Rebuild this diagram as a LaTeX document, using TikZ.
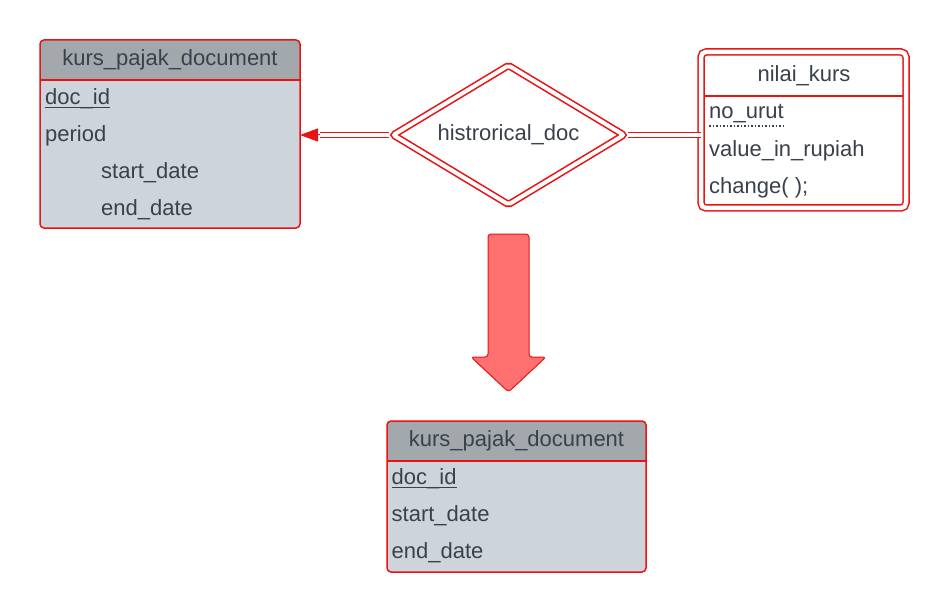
\documentclass[tikz,border=0pt]{standalone}
\usepackage{fontspec}
\setmainfont{Liberation Sans}
\usetikzlibrary{shapes.geometric,arrows.meta}

\definecolor{erred}{RGB}{232,19,19}
\definecolor{hdrgray}{RGB}{163,168,173}
\definecolor{bodygray}{RGB}{206,212,220}
\definecolor{txtgray}{RGB}{58,65,74}
\definecolor{arrowred}{RGB}{255,112,112}

\tikzset{
    erfont/.style={font=\fontsize{22}{26}\selectfont},
    entity/.style={draw=erred, fill=bodygray, line width=1.5pt, rounded corners=4pt,
        inner sep=0pt, outer sep=0pt,
        path picture={
            \fill[hdrgray, sharp corners] (path picture bounding box.north west)
                rectangle ([yshift=-40pt]path picture bounding box.north east);
            \draw[erred, line width=1.5pt, sharp corners] ([yshift=-40pt]path picture bounding box.north west)
                -- ([yshift=-40pt]path picture bounding box.north east);}},
    wentity/.style={draw=erred, double=white, double distance=4.5pt, line width=1.5pt,
        rounded corners=5pt, fill=white, inner sep=0pt, outer sep=0pt},
    rel/.style={diamond, draw=erred, double=white, double distance=4pt, line width=1.6pt,
        rounded corners=2pt, fill=white, text=txtgray, erfont, aspect=1.67,
        inner sep=0pt, outer sep=0pt, outer xsep=3pt},
    title/.style={anchor=base, inner sep=0pt, text=txtgray, erfont},
    attr/.style={anchor=base west, inner sep=0pt, text=txtgray, erfont},
    uline/.style={txtgray, line width=1.3pt},
    dotline/.style={txtgray, line width=1.5pt, dash pattern=on 1.5pt off 2pt},
    erline/.style={erred, line width=1.5pt},
    dbl/.style={draw=erred, line width=1.8pt, double=white, double distance=3.2pt},
    bigarrow/.style={fill=arrowred, draw=erred, line width=1pt, rounded corners=3pt, line join=round}
}

\begin{document}
\begin{tikzpicture}[x=1pt, y=-1pt]
    \useasboundingbox (0,0) rectangle (949,612);

    % entity before
    \node[entity, minimum width=260pt, minimum height=188pt] (kpd) at (170,134) {};
    \node[title] (kpdT) at (170,65.5) {kurs\_pajak\_document};
    \node[attr] (kpdId) at (45,104.5) {doc\_id};
    \draw[uline] ([yshift=-3pt]kpdId.base west) -- ([yshift=-3pt]kpdId.base east);
    \node[attr] (kpdPer) at (45,141.5) {period};
    \node[attr] (kpdSt) at (101,178.5) {start\_date};
    \node[attr] (kpdEn) at (101,215) {end\_date};

    % relationship
    \node[rel, minimum width=233pt, minimum height=139pt] (hd) at (508.5,135) {histrorical\_doc};

    % weak entity
    \node[wentity, minimum width=205pt, minimum height=156pt] (nk) at (803.5,130) {};
    \draw[erline] ([shift={(3pt,-44pt)}]nk.north west) -- ([shift={(-3pt,-44pt)}]nk.north east);
    \node[title] (nkT) at (804,81.5) {nilai\_kurs};
    \node[attr] (nkNo) at (709,119) {no\_urut};
    \draw[dotline] ([yshift=-7pt]nkNo.base west) -- ([yshift=-7pt]nkNo.base east);
    \node[attr] (nkVal) at (709,156.5) {value\_in\_rupiah};
    \node[attr] (nkCh) at (709,193.5) {change( );};

    % double connectors
    \coordinate (tipL) at (hd.west -| kpd.east);
    \draw[dbl] (hd.west) -- ([xshift=20pt]tipL);
    \draw[erred, line width=1pt, -{Triangle[length=18pt, width=13pt]}] ([xshift=20pt]tipL) -- (tipL);
    \draw[dbl] (hd.east) -- (hd.east -| nk.west);

    % transformation arrow
    \draw[bigarrow] (488,234) -- (529,234) -- (529,357) -- (546,357) -- (508.5,392)
        -- (471,357) -- (488,357) -- cycle;

    % entity after
    \node[entity, minimum width=259pt, minimum height=151pt] (kpd2) at (516.5,496.5) {};
    \node[title] (kpd2T) at (516.5,446.5) {kurs\_pajak\_document};
    \node[attr] (kpd2Id) at (391.5,484.5) {doc\_id};
    \draw[uline] ([yshift=-3pt]kpd2Id.base west) -- ([yshift=-3pt]kpd2Id.base east);
    \node[attr] (kpd2St) at (391.5,521.5) {start\_date};
    \node[attr] (kpd2En) at (391.5,558.5) {end\_date};
\end{tikzpicture}
\end{document}
